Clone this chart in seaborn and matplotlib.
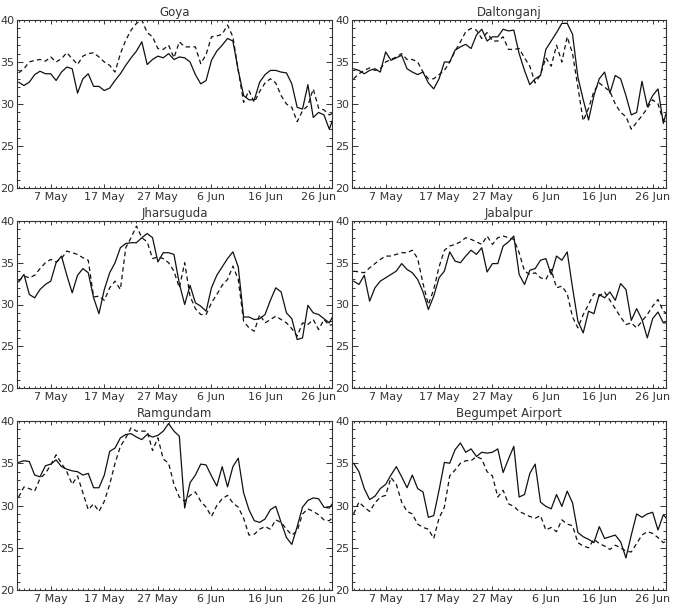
import numpy as np
import pandas as pd
import matplotlib
matplotlib.use("Agg")
import matplotlib.pyplot as plt
import seaborn as sns
from matplotlib.ticker import MultipleLocator, FixedLocator

# ---------------- data ----------------
days = np.arange(1, 61)  # day number counted from 1 May
tick_days = [7, 17, 27, 37, 47, 57]
tick_labels = ["7 May", "17 May", "27 May", "6 Jun", "16 Jun", "26 Jun"]
stations = ["Goya", "Daltonganj", "Jharsuguda", "Jabalpur", "Ramgundam", "Begumpet Airport"]

goya_solid = [32.6, 32.2, 32.6, 33.5, 33.9, 33.6, 33.6, 32.8, 33.8, 34.4,
              34.2, 31.3, 33.0, 33.6, 32.1, 32.1, 31.6, 31.9, 32.8, 33.6,
              34.6, 35.5, 36.3, 37.4, 34.7, 35.3, 35.7, 35.5, 36.0, 35.3,
              35.6, 35.5, 35.0, 33.5, 32.4, 32.8, 35.2, 36.3, 37.0, 37.8,
              37.5, 34.0, 31.0, 30.5, 30.5, 32.6, 33.5, 34.0, 34.0, 33.8,
              33.7, 32.4, 29.6, 29.4, 32.3, 28.4, 29.0, 28.7, 27.0, 28.8]
goya_dashed = [33.7, 34.2, 35.0, 35.2, 35.3, 35.1, 35.6, 35.0, 35.4, 36.1,
               35.4, 34.7, 35.7, 36.0, 36.1, 35.6, 35.0, 34.6, 33.8, 36.0,
               37.6, 38.8, 39.6, 40.0, 38.5, 38.0, 36.6, 36.5, 37.0, 35.5,
               37.4, 36.8, 36.8, 36.8, 34.8, 35.9, 38.0, 38.1, 38.3, 39.4,
               38.0, 34.0, 30.2, 31.6, 30.2, 31.5, 32.5, 33.0, 32.5, 31.0,
               30.0, 29.6, 27.9, 29.2, 29.8, 31.8, 29.5, 29.3, 28.7, 29.0]

dalt_solid = [34.2, 34.0, 33.6, 34.0, 34.2, 33.8, 36.2, 35.2, 35.5, 35.8,
              34.2, 33.8, 33.5, 33.8, 32.5, 31.8, 33.0, 35.0, 35.0, 36.4,
              36.8, 37.1, 36.6, 38.2, 38.9, 37.5, 38.0, 38.0, 38.9, 38.7,
              38.8, 36.0, 34.0, 32.3, 33.0, 33.4, 36.5, 37.5, 38.5, 39.6,
              39.6, 38.3, 33.2, 30.5, 28.1, 31.0, 33.0, 33.8, 31.3, 33.4,
              33.0, 31.0, 28.7, 29.0, 32.7, 29.7, 31.0, 31.8, 27.7, 30.0]
dalt_dashed = [33.0, 33.6, 34.0, 34.3, 34.0, 34.2, 35.0, 35.3, 35.6, 36.0,
               35.3, 35.3, 35.0, 33.8, 33.0, 33.0, 33.5, 34.0, 35.0, 36.3,
               37.4, 38.6, 39.0, 38.8, 37.8, 38.5, 37.5, 37.5, 38.0, 36.5,
               36.5, 36.6, 35.5, 34.5, 32.5, 33.5, 35.5, 34.5, 37.0, 35.0,
               38.0, 36.0, 32.0, 28.0, 29.5, 31.5, 32.5, 32.0, 31.5, 30.0,
               29.0, 28.5, 27.0, 27.8, 28.6, 29.5, 30.5, 30.0, 28.0, 29.0]

jhar_solid = [32.7, 33.6, 31.2, 30.8, 31.8, 32.4, 32.8, 35.0, 35.8, 33.5,
              31.4, 33.5, 34.3, 33.8, 30.8, 28.9, 31.8, 33.8, 35.0, 36.8,
              37.3, 37.4, 37.4, 38.0, 38.5, 38.0, 35.1, 36.2, 36.2, 36.0,
              32.5, 30.0, 32.3, 30.2, 29.8, 29.2, 32.0, 33.5, 34.5, 35.5,
              36.3, 34.5, 28.5, 28.5, 28.2, 28.3, 28.8, 30.5, 32.0, 31.5,
              29.0, 28.3, 25.8, 26.0, 29.9, 29.0, 28.8, 28.3, 27.8, 29.0]
jhar_dashed = [32.8, 33.4, 33.2, 33.5, 34.3, 35.0, 35.4, 35.1, 35.5, 36.4,
               36.2, 36.0, 35.6, 35.3, 30.9, 31.0, 30.5, 32.0, 32.8, 31.8,
               36.8, 38.0, 39.4, 38.0, 37.5, 35.5, 35.7, 35.5, 35.0, 34.0,
               32.0, 35.0, 31.0, 29.5, 28.8, 28.8, 30.2, 31.2, 32.3, 33.0,
               34.6, 33.0, 28.0, 27.2, 26.8, 28.8, 27.8, 28.2, 28.6, 28.2,
               27.8, 27.1, 26.2, 27.8, 27.6, 28.2, 27.0, 28.2, 27.5, 27.7]

jaba_solid = [32.8, 32.4, 33.5, 30.4, 32.0, 32.8, 33.2, 33.6, 34.0, 34.9,
              34.2, 33.8, 33.0, 31.5, 29.4, 31.0, 33.2, 34.0, 36.3, 35.2,
              35.0, 35.8, 36.5, 36.0, 36.8, 33.9, 34.9, 34.9, 37.0, 37.5,
              38.2, 33.6, 32.4, 34.1, 34.3, 35.3, 35.5, 33.6, 35.8, 35.3,
              36.3, 32.0, 28.0, 26.6, 29.2, 28.9, 31.2, 30.8, 31.5, 30.5,
              32.5, 31.8, 28.1, 29.5, 28.2, 26.0, 28.3, 29.1, 27.8, 27.8]
jaba_dashed = [34.0, 33.9, 33.8, 34.4, 34.9, 35.4, 35.8, 35.8, 36.0, 36.2,
               36.2, 36.5, 35.5, 32.5, 30.0, 31.8, 34.5, 36.5, 37.0, 37.2,
               37.5, 38.0, 37.8, 37.5, 37.2, 38.2, 37.2, 38.0, 38.2, 38.0,
               37.8, 36.2, 34.0, 33.6, 33.8, 33.2, 33.0, 34.2, 32.0, 32.2,
               31.3, 28.5, 27.2, 28.8, 30.0, 31.3, 31.0, 31.5, 30.5, 29.5,
               28.5, 27.6, 27.8, 27.2, 28.0, 28.8, 29.8, 30.6, 29.2, 28.8]

ramg_solid = [35.1, 35.3, 35.2, 33.6, 33.4, 34.7, 34.9, 35.4, 34.6, 34.3,
              34.1, 34.0, 33.6, 33.8, 32.1, 32.1, 33.6, 36.4, 36.8, 38.0,
              38.4, 38.5, 38.1, 37.8, 38.4, 38.1, 38.3, 38.8, 39.7, 38.8,
              38.2, 29.7, 32.7, 33.6, 34.9, 34.8, 33.5, 32.3, 34.6, 32.2,
              34.6, 35.6, 31.5, 29.5, 28.2, 28.0, 28.4, 29.5, 29.9, 28.0,
              26.2, 25.4, 27.5, 29.8, 30.6, 30.9, 30.8, 29.8, 29.7, 30.6]
ramg_dashed = [31.0, 32.2, 32.0, 31.7, 33.2, 33.8, 34.8, 36.0, 35.0, 34.0,
               32.5, 33.5, 31.5, 29.5, 30.2, 29.3, 30.5, 32.5, 35.0, 37.0,
               38.0, 39.2, 38.8, 38.8, 38.8, 36.5, 38.0, 35.5, 35.0, 32.5,
               31.0, 30.5, 31.2, 31.6, 30.5, 29.8, 28.7, 30.0, 30.8, 31.2,
               30.3, 29.8, 28.5, 26.5, 26.6, 27.2, 27.5, 27.2, 28.3, 28.0,
               27.2, 26.5, 27.0, 29.0, 29.6, 29.3, 28.9, 28.3, 28.2, 28.8]

begu_solid = [35.0, 34.0, 32.0, 30.7, 31.1, 32.0, 32.5, 33.6, 34.6, 33.4,
              32.1, 33.6, 32.0, 31.6, 28.6, 28.8, 31.8, 35.1, 35.0, 36.6,
              37.4, 36.3, 36.7, 35.8, 36.3, 36.2, 36.3, 36.7, 33.9, 35.5,
              37.0, 31.0, 31.3, 33.8, 34.9, 30.4, 29.9, 29.6, 31.3, 29.9,
              31.7, 30.3, 26.8, 26.3, 26.0, 25.6, 27.5, 26.1, 26.3, 26.5,
              25.7, 23.8, 26.5, 29.0, 28.6, 29.0, 29.2, 27.1, 28.9, 28.2]
begu_dashed = [29.0, 30.4, 29.8, 29.3, 30.3, 31.0, 31.2, 33.3, 32.5, 30.4,
               29.3, 29.0, 27.8, 27.4, 27.2, 26.1, 28.5, 29.8, 33.5, 34.2,
               35.0, 35.3, 35.3, 35.8, 35.5, 34.0, 33.5, 31.0, 31.8, 30.2,
               29.9, 29.3, 29.0, 28.7, 28.5, 28.8, 27.1, 27.4, 26.9, 28.3,
               27.8, 27.6, 25.6, 25.2, 25.0, 26.0, 25.5, 25.2, 24.8, 25.3,
               25.0, 24.6, 24.5, 25.5, 26.5, 26.9, 26.7, 26.2, 25.6, 26.0]

solid_series = [goya_solid, dalt_solid, jhar_solid, jaba_solid, ramg_solid, begu_solid]
dashed_series = [goya_dashed, dalt_dashed, jhar_dashed, jaba_dashed, ramg_dashed, begu_dashed]

# ---------------- figure ----------------
sns.set_style("ticks")
plt.rcParams["font.family"] = ["DejaVu Sans"]
TXT = "#333333"

W, H = 675, 608
fig = plt.figure(figsize=(W / 100, H / 100), dpi=100)
fig.patch.set_facecolor("white")

col_x = [(17, 332), (352, 666)]
row_y = [(20, 188), (221, 388), (421, 590)]

for k, name in enumerate(stations):
    r, c = divmod(k, 2)
    x0, x1 = col_x[c]
    yt, yb = row_y[r]
    ax = fig.add_axes([x0 / W, 1 - yb / H, (x1 - x0) / W, (yb - yt) / H])

    df = pd.DataFrame({"day": days, "Observed": solid_series[k], "Model": dashed_series[k]})
    long = df.melt(id_vars="day", var_name="series", value_name="temp")
    sns.lineplot(data=long, x="day", y="temp", style="series",
                 dashes={"Observed": "", "Model": (3.6, 2.6)},
                 color="#111111", linewidth=0.9, legend=False,
                 estimator=None, sort=True, ax=ax)

    ax.set_xlim(0.7, 59.5)
    ax.set_ylim(20, 40)
    ax.set_xlabel("")
    ax.set_ylabel("")
    ax.xaxis.set_major_locator(FixedLocator(tick_days))
    ax.set_xticklabels(tick_labels)
    ax.xaxis.set_minor_locator(MultipleLocator(1))
    ax.yaxis.set_major_locator(MultipleLocator(5))
    ax.yaxis.set_minor_locator(MultipleLocator(1))
    ax.tick_params(axis="both", which="both", direction="in",
                   top=True, right=True, colors=TXT, width=0.7,
                   labelsize=8, labelcolor=TXT)
    ax.tick_params(axis="y", which="major", length=4.0, pad=2)
    ax.tick_params(axis="y", which="minor", length=2.0)
    ax.tick_params(axis="x", which="major", length=2.6, pad=3)
    ax.tick_params(axis="x", which="minor", length=1.4)
    for sp in ax.spines.values():
        sp.set_visible(True)
        sp.set_color(TXT)
        sp.set_linewidth(0.8)
    ax.set_title(name, fontsize=8.5, color=TXT, pad=3)

fig.savefig("out.png", dpi=100, facecolor="white")
